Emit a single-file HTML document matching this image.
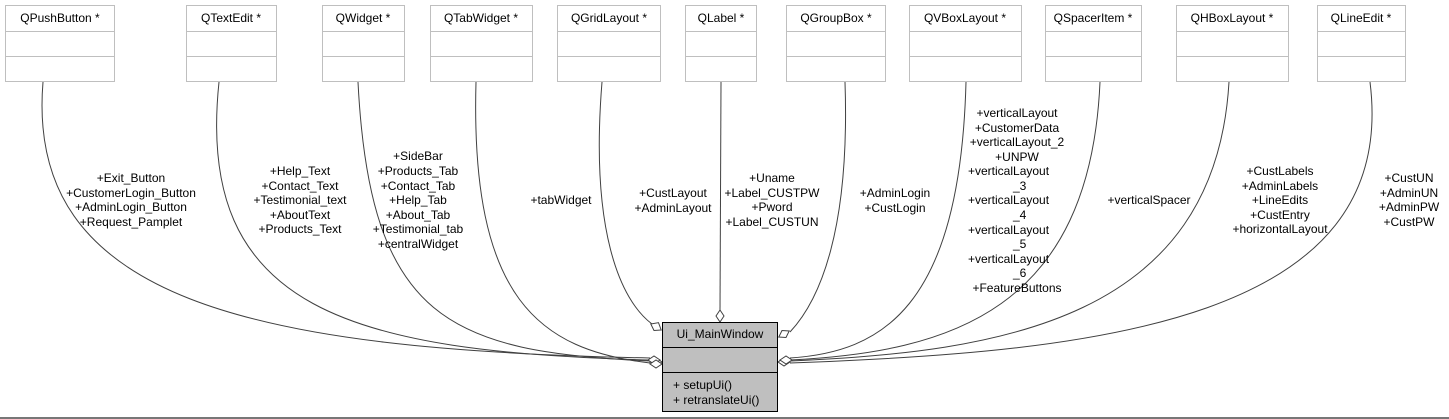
<!DOCTYPE html>
<html><head><meta charset="utf-8"><style>
html,body{margin:0;padding:0;background:#fff;width:1449px;height:419px;overflow:hidden}
svg{display:block}
text{font-family:"Liberation Sans",sans-serif;font-size:12px;fill:#000}
</style></head><body>
<svg width="1449" height="419" viewBox="0 0 1449 419" xmlns="http://www.w3.org/2000/svg">
<g fill="#fff" stroke="#bfbfbf" stroke-width="1">
<rect x="5.5" y="5.5" width="109" height="76"/><line x1="5" y1="31.5" x2="115" y2="31.5"/><line x1="5" y1="56.5" x2="115" y2="56.5"/>
<rect x="186.5" y="5.5" width="90" height="76"/><line x1="186" y1="31.5" x2="277" y2="31.5"/><line x1="186" y1="56.5" x2="277" y2="56.5"/>
<rect x="322.5" y="5.5" width="82" height="76"/><line x1="322" y1="31.5" x2="405" y2="31.5"/><line x1="322" y1="56.5" x2="405" y2="56.5"/>
<rect x="430.5" y="5.5" width="102" height="76"/><line x1="430" y1="31.5" x2="533" y2="31.5"/><line x1="430" y1="56.5" x2="533" y2="56.5"/>
<rect x="557.5" y="5.5" width="103" height="76"/><line x1="557" y1="31.5" x2="661" y2="31.5"/><line x1="557" y1="56.5" x2="661" y2="56.5"/>
<rect x="685.5" y="5.5" width="71" height="76"/><line x1="685" y1="31.5" x2="757" y2="31.5"/><line x1="685" y1="56.5" x2="757" y2="56.5"/>
<rect x="786.5" y="5.5" width="99" height="76"/><line x1="786" y1="31.5" x2="886" y2="31.5"/><line x1="786" y1="56.5" x2="886" y2="56.5"/>
<rect x="909.5" y="5.5" width="112" height="76"/><line x1="909" y1="31.5" x2="1022" y2="31.5"/><line x1="909" y1="56.5" x2="1022" y2="56.5"/>
<rect x="1045.5" y="5.5" width="96" height="76"/><line x1="1045" y1="31.5" x2="1142" y2="31.5"/><line x1="1045" y1="56.5" x2="1142" y2="56.5"/>
<rect x="1176.5" y="5.5" width="112" height="76"/><line x1="1176" y1="31.5" x2="1289" y2="31.5"/><line x1="1176" y1="56.5" x2="1289" y2="56.5"/>
<rect x="1317.5" y="5.5" width="88" height="76"/><line x1="1317" y1="31.5" x2="1406" y2="31.5"/><line x1="1317" y1="56.5" x2="1406" y2="56.5"/>
</g>
<g text-anchor="middle">
<text x="60" y="22">QPushButton *</text>
<text x="231" y="22">QTextEdit *</text>
<text x="363" y="22">QWidget *</text>
<text x="481" y="22">QTabWidget *</text>
<text x="609" y="22">QGridLayout *</text>
<text x="721" y="22">QLabel *</text>
<text x="836" y="22">QGroupBox *</text>
<text x="965" y="22">QVBoxLayout *</text>
<text x="1093" y="22">QSpacerItem *</text>
<text x="1232" y="22">QHBoxLayout *</text>
<text x="1361" y="22">QLineEdit *</text>
</g>
<g fill="none" stroke="#404040" stroke-width="1">
<path d="M43,82 C25,300 250,350 650,358"/>
<path d="M219,82 C195,310 350,352 650,360"/>
<path d="M358,82 C370,320 450,352 650,361"/>
<path d="M476,82 C470,300 540,350 650,363"/>
<path d="M602,82 C590,230 620,300 652,324"/>
<path d="M721,82 L720,311"/>
<path d="M845,82 C850,230 820,300 790,332"/>
<path d="M966,82 C960,310 880,352 790,358"/>
<path d="M1100,82 C1090,310 950,352 790,360"/>
<path d="M1229,82 C1215,320 1000,352 790,361"/>
<path d="M1370,82 C1400,320 1100,352 790,363"/>
</g>
<g fill="#fff" stroke="#404040" stroke-width="1">
<polygon points="662,327 656,331 650,327 656,322" transform="rotate(30 656 327)"/>
<polygon points="720,322 724,316 720,310 716,316"/>
<polygon points="778,334 784,330 790,334 784,338" transform="rotate(-30 784 334)"/>
<polygon points="662,362 656,366 650,362 656,358"/>
<polygon points="660,360 654,364 648,360 654,356"/>
<polygon points="662,364 656,368 650,364 656,360"/>
<polygon points="778,362 784,358 790,362 784,366"/>
<polygon points="780,360 786,356 792,360 786,364"/>
</g>
<g fill="#bfbfbf" stroke="#000" stroke-width="1">
<rect x="662.5" y="322.5" width="115" height="89"/>
<line x1="662" y1="347.5" x2="778" y2="347.5"/><line x1="662" y1="372.5" x2="778" y2="372.5"/>
</g>
<text x="720" y="338" text-anchor="middle">Ui_MainWindow</text>
<text x="673" y="389">+ setupUi()</text>
<text x="673" y="404">+ retranslateUi()</text>
<line x1="0" y1="418" x2="1449" y2="418" stroke="#777" stroke-width="2"/>
<g text-anchor="middle">
<text x="131" y="182">+Exit_Button</text><text x="131" y="197">+CustomerLogin_Button</text><text x="131" y="211">+AdminLogin_Button</text><text x="131" y="226">+Request_Pamplet</text>
<text x="300" y="175">+Help_Text</text><text x="300" y="190">+Contact_Text</text><text x="300" y="204">+Testimonial_text</text><text x="300" y="219">+AboutText</text><text x="300" y="233">+Products_Text</text>
<text x="418" y="160">+SideBar</text><text x="418" y="175">+Products_Tab</text><text x="418" y="190">+Contact_Tab</text><text x="418" y="204">+Help_Tab</text><text x="418" y="219">+About_Tab</text><text x="418" y="233">+Testimonial_tab</text><text x="418" y="248">+centralWidget</text>
<text x="561" y="204">+tabWidget</text>
<text x="673" y="197">+CustLayout</text><text x="673" y="212">+AdminLayout</text>
<text x="772" y="182">+Uname</text><text x="772" y="197">+Label_CUSTPW</text><text x="772" y="211">+Pword</text><text x="772" y="226">+Label_CUSTUN</text>
<text x="895" y="197">+AdminLogin</text><text x="895" y="212">+CustLogin</text>
<text x="1017" y="117">+verticalLayout</text><text x="1017" y="132">+CustomerData</text><text x="1017" y="146">+verticalLayout_2</text><text x="1017" y="161">+UNPW</text>
<text x="1017" y="292">+FeatureButtons</text>
<text x="1149" y="204">+verticalSpacer</text>
<text x="1280" y="175">+CustLabels</text><text x="1280" y="190">+AdminLabels</text><text x="1280" y="204">+LineEdits</text><text x="1280" y="219">+CustEntry</text><text x="1280" y="233">+horizontalLayout</text>
<text x="1409" y="182">+CustUN</text><text x="1409" y="197">+AdminUN</text><text x="1409" y="211">+AdminPW</text><text x="1409" y="226">+CustPW</text>
</g>
<g>
<text x="968" y="175">+verticalLayout</text><text x="1013" y="190">_3</text>
<text x="968" y="204">+verticalLayout</text><text x="1013" y="219">_4</text>
<text x="968" y="234">+verticalLayout</text><text x="1013" y="248">_5</text>
<text x="968" y="263">+verticalLayout</text><text x="1013" y="277">_6</text>
</g>
</svg>
</body></html>
